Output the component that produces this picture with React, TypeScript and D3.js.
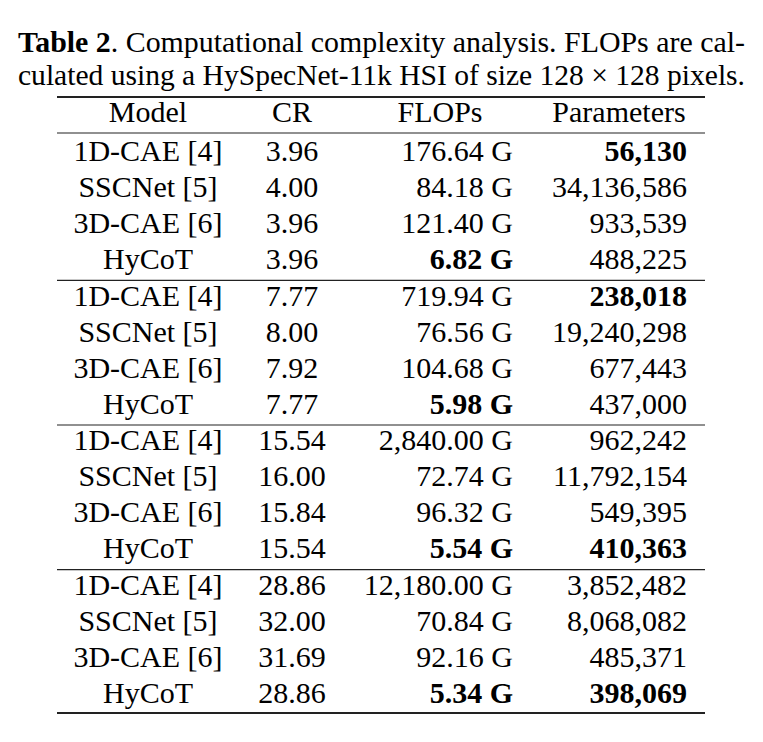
import React from "react";
import * as d3 from "d3";

const MODELS = ["1D-CAE [4]", "SSCNet [5]", "3D-CAE [6]", "HyCoT"];
const CR = [
  ["3.96", "4.00", "3.96", "3.96"],
  ["7.77", "8.00", "7.92", "7.77"],
  ["15.54", "16.00", "15.84", "15.54"],
  ["28.86", "32.00", "31.69", "28.86"],
];
const FLOPS = [
  ["176.64 G", "84.18 G", "121.40 G", "6.82 G"],
  ["719.94 G", "76.56 G", "104.68 G", "5.98 G"],
  ["2,840.00 G", "72.74 G", "96.32 G", "5.54 G"],
  ["12,180.00 G", "70.84 G", "92.16 G", "5.34 G"],
];
const PARAMS = [
  ["56,130", "34,136,586", "933,539", "488,225"],
  ["238,018", "19,240,298", "677,443", "437,000"],
  ["962,242", "11,792,154", "549,395", "410,363"],
  ["3,852,482", "8,068,082", "485,371", "398,069"],
];
// index of bold row per group
const BOLD_FLOPS = [3, 3, 3, 3];
const BOLD_PARAMS = [0, 0, 3, 3];
const HEADERS = ["Model", "CR", "FLOPs", "Parameters"];

const W = 763;
const H = 742;
const FONT = "'Liberation Serif', 'Times New Roman', serif";

const App = () => {
  const rowY = d3.scaleLinear().domain([0, 15]).range([161, 703]);
  const rows = d3.range(16);
  const x0 = 57;
  const x1 = 705;
  const fs = 30;
  return (
    <svg width={W} height={H} style={{ display: "block", position: "absolute", left: 0, top: 0 }}>
      <rect width={W} height={H} fill="#fff" />
      <g fontFamily={FONT} fill="#000">
        <text x={18} y={52} fontSize={30} textLength={727} lengthAdjust="spacingAndGlyphs">
          <tspan fontWeight="bold">Table 2</tspan>. Computational complexity analysis. FLOPs are cal-
        </text>
        <text x={18} y={85} fontSize={30} textLength={727} lengthAdjust="spacingAndGlyphs">
          culated using a HySpecNet-11k HSI of size 128 × 128 pixels.
        </text>

        <line x1={x0} x2={x1} y1={97} y2={97} stroke="#222" strokeWidth={2} />
        <line x1={x0} x2={x1} y1={133} y2={133} stroke="#222" strokeWidth={1.2} />
        {[1, 2, 3].map((g) => {
          const y = (rowY(g * 4 - 1) + rowY(g * 4)) / 2 - 7;
          return <line key={g} x1={x0} x2={x1} y1={y} y2={y} stroke="#222" strokeWidth={1.2} />;
        })}
        <line x1={x0} x2={x1} y1={713} y2={713} stroke="#222" strokeWidth={2} />

        <g fontSize={fs}>
          <text x={148} y={122} textAnchor="middle">{HEADERS[0]}</text>
          <text x={292} y={122} textAnchor="middle">{HEADERS[1]}</text>
          <text x={440} y={122} textAnchor="middle">{HEADERS[2]}</text>
          <text x={619} y={122} textAnchor="middle">{HEADERS[3]}</text>

          {rows.map((i) => {
            const g = Math.floor(i / 4);
            const r = i % 4;
            const y = rowY(i);
            return (
              <g key={i}>
                <text x={148} y={y} textAnchor="middle">{MODELS[r]}</text>
                <text x={292} y={y} textAnchor="middle">{CR[g][r]}</text>
                <text x={513} y={y} textAnchor="end" fontWeight={BOLD_FLOPS[g] === r ? "bold" : "normal"}>
                  {FLOPS[g][r]}
                </text>
                <text x={687} y={y} textAnchor="end" fontWeight={BOLD_PARAMS[g] === r ? "bold" : "normal"}>
                  {PARAMS[g][r]}
                </text>
              </g>
            );
          })}
        </g>
      </g>
    </svg>
  );
};

export default App;
